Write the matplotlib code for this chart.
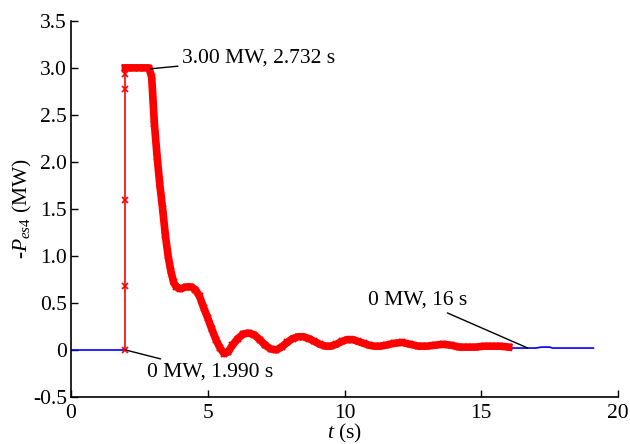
import matplotlib.pyplot as plt

plt.rcParams['font.family'] = ['Liberation Serif', 'DejaVu Serif']
plt.rcParams['mathtext.fontset'] = 'custom'
plt.rcParams['mathtext.rm'] = 'Liberation Serif'
plt.rcParams['mathtext.it'] = 'Liberation Serif:italic'

# blue trace before the step and after the marked section
t_pre = [0.0, 1.99]
p_pre = [0.0, 0.0]
t_post = [16.0, 17.0, 17.2, 17.5, 17.6, 19.1]
p_post = [0.02, 0.02, 0.03, 0.03, 0.02, 0.02]

# step up at 1.990 s
t_rise = [1.99, 1.99, 1.99, 1.99, 1.99, 1.99]
p_rise = [0.0, 0.68, 1.6, 2.78, 2.93, 3.0]

# red marked response
t_es = [1.99, 2.1, 2.3, 2.5, 2.7, 2.85, 2.95, 3.05, 3.15, 3.25, 3.35, 3.45, 3.55,
        3.65, 3.75, 3.85, 4.0, 4.2, 4.4, 4.55, 4.7, 4.85, 5.0, 5.15, 5.3, 5.45,
        5.6, 5.75, 5.9, 6.1, 6.3, 6.5, 6.7, 6.9, 7.1, 7.3, 7.5, 7.7, 7.9, 8.1,
        8.3, 8.5, 8.7, 8.9, 9.1, 9.3, 9.5, 9.7, 9.9, 10.1, 10.3, 10.5, 10.7,
        10.9, 11.1, 11.3, 11.5, 11.8, 12.1, 12.4, 12.7, 13.0, 13.3, 13.6, 13.9,
        14.2, 14.5, 14.8, 15.1, 15.4, 15.7, 16.0]
p_es = [3.0, 3.0, 3.0, 3.0, 3.0, 3.0, 2.9, 2.4, 2.05, 1.75, 1.5, 1.22, 1.0,
        0.84, 0.72, 0.67, 0.65, 0.67, 0.67, 0.64, 0.57, 0.45, 0.34, 0.22, 0.11, 0.02,
        -0.04, -0.02, 0.05, 0.12, 0.17, 0.18, 0.16, 0.11, 0.05, 0.01, 0.0, 0.03, 0.08, 0.12,
        0.14, 0.14, 0.12, 0.09, 0.06, 0.04, 0.04, 0.06, 0.09, 0.11, 0.11, 0.09, 0.07,
        0.05, 0.04, 0.04, 0.05, 0.07, 0.08, 0.06, 0.04, 0.04, 0.05, 0.06, 0.05,
        0.03, 0.03, 0.03, 0.04, 0.04, 0.04, 0.03]

fs = 15.5

fig = plt.figure(figsize=(6.3, 4.44), dpi=100)
ax = fig.add_axes([0.1127, 0.106, 0.8683, 0.847])

ax.plot(t_pre, p_pre, color='blue', lw=1.2)
ax.plot(t_post, p_post, color='blue', lw=1.2)
ax.plot(t_rise, p_rise, color='red', lw=1.2, marker='x', ms=4, mew=1.2)
ax.plot(t_es, p_es, color='red', lw=5.5, solid_joinstyle='round',
        marker='x', ms=5, mew=1.5)

ax.set_xlim(0, 20)
ax.set_ylim(-0.5, 3.5)
ax.set_xticks([0, 5, 10, 15, 20])
ax.set_yticks([-0.5, 0, 0.5, 1.0, 1.5, 2.0, 2.5, 3.0, 3.5])
ax.set_yticklabels(['-0.5', '0', '0.5', '1.0', '1.5', '2.0', '2.5', '3.0', '3.5'])
ax.tick_params(direction='in', length=5, width=1, labelsize=fs)
ax.tick_params(axis='y', pad=3)
ax.tick_params(axis='x', pad=5)
for s in ['top', 'right']:
    ax.spines[s].set_visible(False)
for s in ['left', 'bottom']:
    ax.spines[s].set_linewidth(1.2)

ax.set_xlabel(r'$t$ (s)', fontsize=fs, labelpad=-1)
ax.set_ylabel(r'-$P_{es4}$ (MW)', fontsize=fs, labelpad=-0.5)

akw = dict(fontsize=fs, arrowprops=dict(arrowstyle='-', color='black', lw=1,
                                        shrinkA=1, shrinkB=0))
ax.annotate('3.00 MW, 2.732 s', xy=(2.9, 2.99), xytext=(4.06, 3.10),
            va='center', ha='left', **akw)
ax.annotate('0 MW, 1.990 s', xy=(1.99, 0.0), xytext=(2.78, -0.23),
            va='center', ha='left', **akw)
ax.annotate('0 MW, 16 s', xy=(16.7, 0.02), xytext=(14.5, 0.53),
            va='center', ha='right', **akw)

fig.savefig('out.png', dpi=100)
